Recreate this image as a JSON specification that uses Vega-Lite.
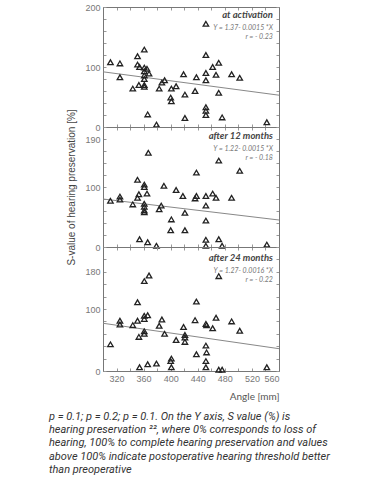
{
  "$schema": "https://vega.github.io/schema/vega-lite/v6.json",
  "padding": {"left": 48, "top": 3, "right": 4, "bottom": 4},
  "background": "white",
  "title": {
    "text": [
      "p = 0.1; p = 0.2; p = 0.1. On the Y axis, S value (%) is",
      "hearing preservation ²², where 0% corresponds to loss of",
      "hearing, 100% to complete hearing preservation and values",
      "above 100% indicate postoperative hearing threshold better",
      "than preoperative"
    ],
    "orient": "bottom",
    "anchor": "start",
    "font": "Roboto",
    "fontSize": 11,
    "fontStyle": "italic",
    "fontWeight": "normal",
    "color": "#333",
    "lineHeight": 13.2,
    "offset": 10,
    "dx": -18
  },
  "datasets": {
    "p1": [
      {"angle": 311, "s": 108}, {"angle": 325, "s": 106}, {"angle": 325, "s": 83}, {"angle": 344, "s": 64},
      {"angle": 351, "s": 118}, {"angle": 351, "s": 104}, {"angle": 354, "s": 100}, {"angle": 353, "s": 70},
      {"angle": 361, "s": 129}, {"angle": 361, "s": 99}, {"angle": 361, "s": 93}, {"angle": 361, "s": 86},
      {"angle": 361, "s": 80}, {"angle": 361, "s": 70}, {"angle": 361, "s": 67}, {"angle": 365, "s": 97},
      {"angle": 368, "s": 89}, {"angle": 366, "s": 21}, {"angle": 379, "s": 4}, {"angle": 383, "s": 64},
      {"angle": 387, "s": 74}, {"angle": 391, "s": 78}, {"angle": 401, "s": 64}, {"angle": 400, "s": 49},
      {"angle": 401, "s": 43}, {"angle": 408, "s": 68}, {"angle": 419, "s": 88}, {"angle": 421, "s": 54},
      {"angle": 421, "s": 15}, {"angle": 436, "s": 60}, {"angle": 438, "s": 83}, {"angle": 452, "s": 120},
      {"angle": 452, "s": 90}, {"angle": 452, "s": 78}, {"angle": 452, "s": 33}, {"angle": 452, "s": 27},
      {"angle": 452, "s": 20}, {"angle": 452, "s": 172}, {"angle": 462, "s": 100}, {"angle": 467, "s": 87},
      {"angle": 471, "s": 107}, {"angle": 471, "s": 57}, {"angle": 476, "s": 16}, {"angle": 490, "s": 88},
      {"angle": 502, "s": 82}, {"angle": 542, "s": 8}
    ],
    "p2": [
      {"angle": 311, "s": 77}, {"angle": 325, "s": 84}, {"angle": 325, "s": 79}, {"angle": 344, "s": 71},
      {"angle": 351, "s": 112}, {"angle": 351, "s": 82}, {"angle": 353, "s": 88}, {"angle": 361, "s": 104},
      {"angle": 361, "s": 100}, {"angle": 361, "s": 72}, {"angle": 361, "s": 67}, {"angle": 361, "s": 61},
      {"angle": 361, "s": 58}, {"angle": 365, "s": 89}, {"angle": 367, "s": 157}, {"angle": 354, "s": 13},
      {"angle": 366, "s": 8}, {"angle": 379, "s": 2}, {"angle": 383, "s": 63}, {"angle": 386, "s": 69},
      {"angle": 390, "s": 102}, {"angle": 401, "s": 46}, {"angle": 400, "s": 28}, {"angle": 408, "s": 95},
      {"angle": 418, "s": 85}, {"angle": 421, "s": 57}, {"angle": 421, "s": 28}, {"angle": 436, "s": 81},
      {"angle": 438, "s": 124}, {"angle": 438, "s": 85}, {"angle": 452, "s": 85}, {"angle": 452, "s": 69},
      {"angle": 452, "s": 44}, {"angle": 452, "s": 12}, {"angle": 452, "s": 2}, {"angle": 462, "s": 89},
      {"angle": 467, "s": 82}, {"angle": 471, "s": 144}, {"angle": 471, "s": 13}, {"angle": 476, "s": 2},
      {"angle": 490, "s": 82}, {"angle": 502, "s": 127}, {"angle": 542, "s": 4}
    ],
    "p3": [
      {"angle": 311, "s": 43}, {"angle": 325, "s": 81}, {"angle": 325, "s": 75}, {"angle": 344, "s": 74},
      {"angle": 351, "s": 111}, {"angle": 351, "s": 81}, {"angle": 353, "s": 55}, {"angle": 361, "s": 145},
      {"angle": 361, "s": 89}, {"angle": 361, "s": 84}, {"angle": 361, "s": 64}, {"angle": 361, "s": 60},
      {"angle": 366, "s": 90}, {"angle": 368, "s": 154}, {"angle": 354, "s": 6}, {"angle": 366, "s": 11},
      {"angle": 379, "s": 12}, {"angle": 383, "s": 73}, {"angle": 387, "s": 83}, {"angle": 391, "s": 60},
      {"angle": 400, "s": 16}, {"angle": 401, "s": 20}, {"angle": 401, "s": 6}, {"angle": 408, "s": 50},
      {"angle": 419, "s": 71}, {"angle": 421, "s": 58}, {"angle": 421, "s": 54}, {"angle": 421, "s": 47},
      {"angle": 436, "s": 82}, {"angle": 438, "s": 112}, {"angle": 438, "s": 27}, {"angle": 452, "s": 76},
      {"angle": 453, "s": 74}, {"angle": 452, "s": 41}, {"angle": 453, "s": 30}, {"angle": 452, "s": 16},
      {"angle": 452, "s": 6}, {"angle": 462, "s": 69}, {"angle": 467, "s": 86}, {"angle": 471, "s": 153},
      {"angle": 471, "s": 2}, {"angle": 476, "s": 2}, {"angle": 490, "s": 80}, {"angle": 502, "s": 65},
      {"angle": 542, "s": 6}
    ],
    "fit1": [{"angle": 300, "s": 92}, {"angle": 560, "s": 53}],
    "fit2": [{"angle": 300, "s": 80}, {"angle": 560, "s": 45}],
    "fit3": [{"angle": 300, "s": 77}, {"angle": 560, "s": 36}],
    "h1": [{"label": "at activation"}],
    "h2": [{"label": "after 12 months"}],
    "h3": [{"label": "after 24 months"}]
  },
  "spacing": 0,
  "bounds": "flush",
  "vconcat": [
    {
      "width": 176, "height": 120,
      "layer": [
        {
          "data": {"name": "fit1"},
          "mark": {"type": "line", "color": "#888", "strokeWidth": 1},
          "encoding": {
            "x": {"field": "angle", "type": "quantitative", "scale": {"domain": [300, 560], "nice": false, "zero": false},
                  "axis": {"orient": "top", "values": [300,320,340,360,380,400,420,440,460,480,500,520,540,560], "labels": false, "title": null}},
            "y": {"field": "s", "type": "quantitative", "scale": {"domain": [0, 200], "nice": false},
                  "axis": {"orient": "right", "values": [0,20,40,60,80,100,120,140,160,180,200], "labels": false, "title": null}}
          }
        },
        {
          "data": {"name": "p1"},
          "mark": {"type": "point", "shape": "triangle-up", "filled": false, "stroke": "#222", "strokeWidth": 1.3, "size": 30, "opacity": 1},
          "encoding": {
            "x": {"field": "angle", "type": "quantitative",
                  "axis": {"orient": "bottom", "values": [300,320,340,360,380,400,420,440,460,480,500,520,540,560], "labels": false, "title": null}},
            "y": {"field": "s", "type": "quantitative",
                  "axis": {"orient": "left", "values": [0,20,40,60,80,100,120,140,160,180,200], "labelExpr": "datum.value == 0 || datum.value == 100 || datum.value == 200 ? datum.label : ''", "title": null}}
          }
        },
        {
          "data": {"name": "h1"},
          "mark": {"type": "text", "align": "right", "baseline": "middle", "font": "Lato", "fontStyle": "italic", "fontWeight": "bold", "fontSize": 9.5, "color": "#444"},
          "encoding": {
            "x": {"datum": 551, "type": "quantitative", "axis": null},
            "y": {"datum": 187, "type": "quantitative", "axis": null},
            "text": {"field": "label"}
          }
        },
        {
          "data": {"name": "h1"},
          "mark": {"type": "text", "text": ["Y = 1.37- 0.0015 *X", "r = - 0.23"], "align": "right", "baseline": "middle", "lineHeight": 9, "font": "Lato", "fontStyle": "italic", "fontSize": 7, "color": "#777"},
          "encoding": {
            "x": {"datum": 551, "type": "quantitative", "axis": null},
            "y": {"datum": 164.5, "type": "quantitative", "axis": null}
          }
        }
      ],
      "resolve": {"axis": {"x": "independent", "y": "independent"}}
    },
    {
      "width": 176, "height": 120,
      "layer": [
        {
          "data": {"name": "fit2"},
          "mark": {"type": "line", "color": "#888", "strokeWidth": 1},
          "encoding": {
            "x": {"field": "angle", "type": "quantitative", "scale": {"domain": [300, 560], "nice": false, "zero": false},
                  "axis": {"orient": "top", "values": [300,320,340,360,380,400,420,440,460,480,500,520,540,560], "labels": false, "title": null}},
            "y": {"field": "s", "type": "quantitative", "scale": {"domain": [0, 200], "nice": false},
                  "axis": {"orient": "right", "values": [0,20,40,60,80,100,120,140,160,180,200], "labels": false, "title": null}}
          }
        },
        {
          "data": {"name": "p2"},
          "mark": {"type": "point", "shape": "triangle-up", "filled": false, "stroke": "#222", "strokeWidth": 1.3, "size": 30, "opacity": 1},
          "encoding": {
            "x": {"field": "angle", "type": "quantitative",
                  "axis": {"orient": "bottom", "values": [300,320,340,360,380,400,420,440,460,480,500,520,540,560], "labels": false, "title": null}},
            "y": {"field": "s", "type": "quantitative",
                  "axis": {"orient": "left", "values": [0,20,40,60,80,100,120,140,160,180,200], "labelExpr": "datum.value == 0 ? '0' : datum.value == 100 ? '100' : datum.value == 180 ? '190' : ''",
                           "title": "S-value of hearing preservation [%]", "titleFont": "Liberation Sans", "titleFontSize": 10, "titleFontWeight": "normal", "titleColor": "#444", "titlePadding": 8}}
          }
        },
        {
          "data": {"name": "h2"},
          "mark": {"type": "text", "align": "right", "baseline": "middle", "font": "Lato", "fontStyle": "italic", "fontWeight": "bold", "fontSize": 9.5, "color": "#444"},
          "encoding": {
            "x": {"datum": 551, "type": "quantitative", "axis": null},
            "y": {"datum": 185, "type": "quantitative", "axis": null},
            "text": {"field": "label"}
          }
        },
        {
          "data": {"name": "h2"},
          "mark": {"type": "text", "text": ["Y = 1.22- 0.0015 *X", "r = - 0.18"], "align": "right", "baseline": "middle", "lineHeight": 8.5, "font": "Lato", "fontStyle": "italic", "fontSize": 7, "color": "#777"},
          "encoding": {
            "x": {"datum": 551, "type": "quantitative", "axis": null},
            "y": {"datum": 163, "type": "quantitative", "axis": null}
          }
        }
      ],
      "resolve": {"axis": {"x": "independent", "y": "independent"}}
    },
    {
      "width": 176, "height": 124,
      "layer": [
        {
          "data": {"name": "fit3"},
          "mark": {"type": "line", "color": "#888", "strokeWidth": 1},
          "encoding": {
            "x": {"field": "angle", "type": "quantitative", "scale": {"domain": [300, 560], "nice": false, "zero": false},
                  "axis": {"orient": "top", "values": [300,320,340,360,380,400,420,440,460,480,500,520,540,560], "labels": false, "title": null}},
            "y": {"field": "s", "type": "quantitative", "scale": {"domain": [0, 200], "nice": false},
                  "axis": {"orient": "right", "values": [0,20,40,60,80,100,120,140,160,180,200], "labels": false, "title": null}}
          }
        },
        {
          "data": {"name": "p3"},
          "mark": {"type": "point", "shape": "triangle-up", "filled": false, "stroke": "#222", "strokeWidth": 1.3, "size": 30, "opacity": 1},
          "encoding": {
            "x": {"field": "angle", "type": "quantitative",
                  "axis": {"orient": "bottom", "values": [300,320,340,360,380,400,420,440,460,480,500,520,540,560],
                           "labelExpr": "datum.value % 40 == 0 && datum.value > 300 ? datum.label : ''",
                           "title": "Angle [mm]", "titleAnchor": "end", "titleFont": "Lato", "titleFontSize": 10, "titleFontWeight": "normal", "titleColor": "#555", "titlePadding": 8}},
            "y": {"field": "s", "type": "quantitative",
                  "axis": {"orient": "left", "values": [0,20,40,60,80,100,120,140,160,180,200], "labelExpr": "datum.value == 0 ? '0' : datum.value == 100 ? '100' : datum.value == 160 ? '180' : ''", "title": null}}
          }
        },
        {
          "data": {"name": "h3"},
          "mark": {"type": "text", "align": "right", "baseline": "middle", "font": "Lato", "fontStyle": "italic", "fontWeight": "bold", "fontSize": 9.5, "color": "#444"},
          "encoding": {
            "x": {"datum": 551, "type": "quantitative", "axis": null},
            "y": {"datum": 183, "type": "quantitative", "axis": null},
            "text": {"field": "label"}
          }
        },
        {
          "data": {"name": "h3"},
          "mark": {"type": "text", "text": ["Y = 1.27- 0.0016 *X", "r = - 0.22"], "align": "right", "baseline": "middle", "lineHeight": 8.5, "font": "Lato", "fontStyle": "italic", "fontSize": 7, "color": "#777"},
          "encoding": {
            "x": {"datum": 551, "type": "quantitative", "axis": null},
            "y": {"datum": 161, "type": "quantitative", "axis": null}
          }
        }
      ],
      "resolve": {"axis": {"x": "independent", "y": "independent"}}
    }
  ],
  "config": {
    "view": {"stroke": null},
    "axis": {
      "grid": false,
      "tickSize": -3,
      "tickColor": "#999",
      "domainColor": "#777",
      "labelFont": "Liberation Sans",
      "labelFontSize": 9,
      "labelColor": "#777",
      "labelPadding": 6
    }
  }
}
